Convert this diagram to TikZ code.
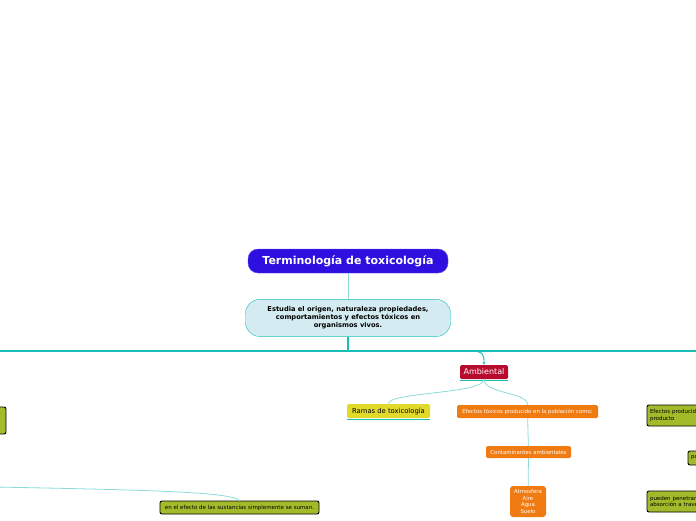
\documentclass[tikz,border=0pt]{standalone}
\usepackage{fontspec}
\setmainfont{DejaVu Sans}
\usetikzlibrary{arrows.meta,positioning}
\definecolor{titleblue}{HTML}{2D10E0}
\definecolor{titleedge}{HTML}{5A4BEA}
\definecolor{softcyan}{HTML}{D4ECF1}
\definecolor{tealline}{HTML}{19BFB4}
\definecolor{lightteal}{HTML}{8ADBD8}
\definecolor{crimson}{HTML}{B80C2E}
\definecolor{mustard}{HTML}{E2DA2A}
\definecolor{tangerine}{HTML}{F07B12}
\definecolor{olivegreen}{HTML}{A3BB2B}
\tikzset{
  titlebox/.style={draw=titleedge, fill=titleblue, rounded corners=10pt, text=white, font=\bfseries\fontsize{11}{13}\selectfont, minimum width=200pt, minimum height=24pt, inner sep=0pt},
  descbox/.style={draw=tealline, fill=softcyan, rounded corners=14pt, font=\bfseries\fontsize{6.7}{8}\selectfont, minimum width=205pt, minimum height=37pt, inner sep=0pt, align=center},
  branchbox/.style={fill=crimson, rounded corners=1.5pt, text=white, font=\fontsize{8}{9}\selectfont, minimum width=48pt, minimum height=14pt, inner sep=0pt},
  topicbox/.style={fill=mustard, rounded corners=1.5pt, font=\fontsize{6.8}{8}\selectfont, minimum width=83pt, minimum height=14pt, inner sep=0pt},
  orangebox/.style={fill=tangerine, rounded corners=1.5pt, text=white, font=\fontsize{5.4}{6.5}\selectfont, inner sep=0pt, align=center},
  greenbox/.style={draw=black, line width=0.9pt, fill=olivegreen, rounded corners=2pt, font=\fontsize{5.5}{6.5}\selectfont, inner sep=0pt, align=left},
  trunk/.style={draw=tealline, line width=1.8pt},
  link/.style={draw=lightteal, line width=0.8pt},
  underline/.style={draw=tealline, line width=1pt}
}
\begin{document}
\begin{tikzpicture}[x=1pt, y=-1pt, >={Stealth[length=3pt,width=3pt]}]
  \useasboundingbox (0,0) rectangle (696,520);
  \clip (0,0) rectangle (696,520);
  % centre
  \node[titlebox] (title) at (348,261) {Terminología de toxicología};
  \node[descbox, below=26pt of title] (desc) {Estudia el origen, naturaleza propiedades,\\comportamientos y efectos tóxicos en\\organismos vivos.};
  \coordinate (hub) at (348,351);
  \coordinate (trunkL) at (-10,351);
  \coordinate (trunkR) at (706,351);
  \draw[link] (title) -- (desc);
  \draw[trunk] (desc) -- (hub);
  \draw[trunk] (trunkL) -- (trunkR);
  % Ambiental branch
  \node[branchbox] (amb) at (484,372) {Ambiental};
  \node[topicbox] (ramas) at (388.5,411) {Ramas de toxicología};
  \node[orangebox, minimum width=141pt, minimum height=13pt] (efectos) at (527.5,411.5) {Efectos tóxicos producido en la población como:};
  \node[orangebox, minimum width=85pt, minimum height=12pt] (contam) at (528.5,452) {Contaminantes ambientales};
  \node[orangebox, rounded corners=3pt, minimum width=36pt, minimum height=31pt, font=\fontsize{5.4}{6.5}\selectfont] (medios) at (528,501.5) {Atmosfera\\Aire\\Agua\\Suelo};
  \draw[underline] ([yshift=-1pt]amb.south west) -- ([yshift=-1pt]amb.south east);
  \draw[underline] ([yshift=-1pt]ramas.south west) -- ([yshift=-1pt]ramas.south east);
  \coordinate (fork) at (470,351);
  \draw[tealline, line width=0.9pt, ->] (fork) .. controls (484,351) and (484,355) .. (amb.north);
  \draw[link] (amb.south) .. controls (484,394) and (388,392) .. (ramas.north);
  \draw[link] (amb.south) .. controls (484,394) and (528,392) .. (efectos.north);
  \draw[link] (efectos) -- (contam);
  \draw[link] (contam) -- (medios);
  % left side
  \node[greenbox, minimum width=46pt, minimum height=27pt] (leftbox) at (-17,420.5) {};
  \node[greenbox, minimum width=159pt, minimum height=13pt, align=center] (suman) at (239.5,507.5) {en el efecto de las sustancias simplemente se suman.};
  \coordinate (leftend) at (-5,487);
  \draw[link] (leftend) .. controls (150,490) and (232,492) .. (suman.north);
  % right side
  \node[greenbox, minimum width=110pt, minimum height=21pt, text width=104pt] (efprod) at (702,415.5) {Efectos producidos por el\\producto};
  \node[greenbox, minimum width=52pt, minimum height=14pt, text width=46pt] (pbox) at (714,458) {por};
  \node[greenbox, minimum width=110pt, minimum height=21pt, text width=104pt] (penetra) at (702,501.5) {pueden penetrar al\\absorción a través};
\end{tikzpicture}
\end{document}
